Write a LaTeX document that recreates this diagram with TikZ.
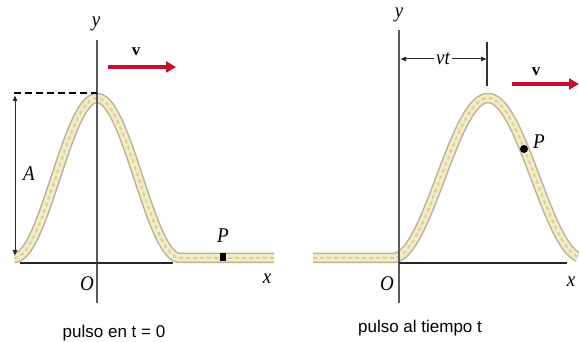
\documentclass[tikz,border=0pt]{standalone}
\usepackage{fontspec}
\setmainfont{Liberation Serif}
\newfontfamily\capfont{Liberation Sans}
\usetikzlibrary{arrows.meta}
\definecolor{ropeedge}{HTML}{B9B196}
\definecolor{ropefill}{HTML}{F3ECC6}
\definecolor{ropetex}{HTML}{DCCF98}
\definecolor{velred}{HTML}{C8102E}
\definecolor{axisgray}{HTML}{5A5A5A}
\tikzset{
 ropeout/.style={draw=ropeedge, line width=10.5pt, line join=round},
 ropein/.style={draw=ropefill, line width=7.5pt, line join=round},
 ropetexture/.style={draw=ropetex, line width=2pt, dash pattern=on 4pt off 3pt},
 yaxis/.style={draw=axisgray, line width=1.6pt},
 xaxis/.style={draw=black!85, line width=1.8pt},
 vel/.style={draw=velred, line width=4pt, -{Triangle[length=10pt,width=11pt]}},
 lbl/.style={font=\fontsize{19}{19}\selectfont\itshape, inner sep=0pt, yscale=1.1},
 vlbl/.style={font=\fontsize{17}{17}\selectfont\bfseries, inner sep=0pt},
 captext/.style={font=\capfont\fontsize{17}{17}\selectfont, inner sep=0pt, anchor=base},
 dimline/.style={draw=black!85, line width=1pt, {Latex[length=6pt,width=5pt]}-{Latex[length=6pt,width=5pt]}},
 dashline/.style={draw=black, line width=1.8pt, dash pattern=on 7pt off 4pt},
 tickline/.style={draw=black!80, line width=1.3pt},
}
\begin{document}
\begin{tikzpicture}[x=1pt,y=-1pt]
\useasboundingbox (0,0) rectangle (579,342);
% ropes
\foreach \st in {ropeout,ropein,ropetexture}{
 \draw[\st] plot[domain=14:179,samples=80] (\x,{258-80*(1+cos((\x-97)/83*180))}) -- (274,258);
 \draw[\st] (313,258) -- (393,258) -- plot[domain=393:578,samples=90] (\x,{258-80*(1+cos((\x-488)/95*180))});
}
% left panel axes
\coordinate (yLt) at (97,40);
\coordinate (yLb) at (97,303);
\coordinate (xLl) at (20,263);
\coordinate (xLr) at (173,263);
\draw[yaxis] (yLt) -- (yLb);
\draw[xaxis] (xLl) -- (xLr);
% amplitude
\coordinate (dL1) at (14,93);
\coordinate (dL2) at (97,93);
\draw[dashline] (dL1) -- (dL2);
\coordinate (aTop) at (15,95);
\coordinate (aBot) at (15,256);
\draw[dimline] (aTop) -- (aBot);
% velocity left
\coordinate (vLs) at (108,67);
\coordinate (vLe) at (176,67);
\draw[vel] (vLs) -- (vLe);
% labels left
\node[lbl] (yL) at (96,24) {y};
\node[lbl] (OL) at (87,284) {O};
\node[lbl] (xL) at (267,279) {x};
\node[lbl] (AL) at (29,174) {A};
\node[lbl] (PL) at (223,236) {P};
\node[vlbl] (vL) at (136,52) {v};
\node[fill=black, minimum width=6pt, minimum height=8pt, inner sep=0pt] (dotL) at (223,257) {};
% right panel axes
\coordinate (yRt) at (399,30);
\coordinate (yRb) at (399,303);
\coordinate (xRl) at (399,263);
\coordinate (xRr) at (567,263);
\draw[yaxis] (yRt) -- (yRb);
\draw[xaxis] (xRl) -- (xRr);
% vt
\coordinate (vtA) at (400,59);
\coordinate (vtB) at (487,59);
\coordinate (tkT) at (487,42);
\coordinate (tkB) at (487,86);
\draw[tickline] (tkT) -- (tkB);
\draw[dimline] (vtA) -- (vtB);
\node[lbl, fill=white, inner sep=2pt] (vt) at (443,59) {vt};
% velocity right
\coordinate (vRs) at (512,84);
\coordinate (vRe) at (579,84);
\draw[vel] (vRs) -- (vRe);
% labels right
\node[lbl] (yR) at (399,15) {y};
\node[lbl] (OR) at (387,284) {O};
\node[lbl] (xR) at (571,282) {x};
\node[vlbl] (vR) at (536,72) {v};
\node[circle, fill=black, minimum size=8pt, inner sep=0pt] (dotR) at (524,149) {};
\node[lbl] (PR) at (539,142) {P};
% captions
\node[captext] (c1) at (114,337) {pulso en t = 0};
\node[captext] (c2) at (420,332) {pulso al tiempo t};
\end{tikzpicture}
\end{document}
